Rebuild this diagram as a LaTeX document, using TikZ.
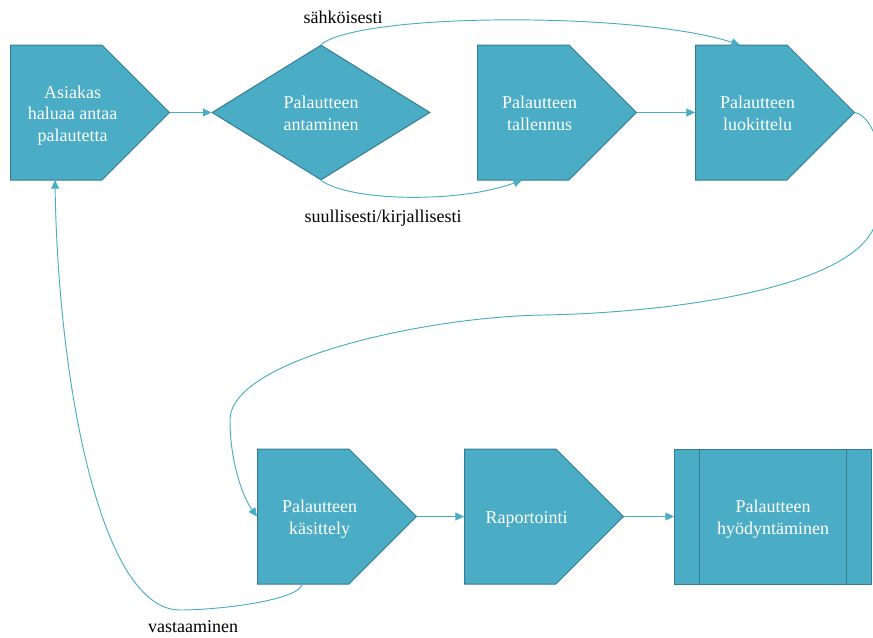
\documentclass[tikz,border=0pt]{standalone}
\usepackage{fontspec}
\setmainfont{Liberation Serif}
\usetikzlibrary{shapes.symbols,shapes.geometric,arrows.meta,calc}
\definecolor{stepfill}{HTML}{4BACC6}
\definecolor{stepline}{HTML}{357D91}
% tekstirivit keskelle, hieman alemmas
\newcommand{\steplines}[1]{\begin{tabular}{@{}c@{}}\rule{0pt}{15.9pt}#1\end{tabular}}

\begin{document}
\begin{tikzpicture}[x=0.75pt,y=-0.75pt,
        font=\fontsize{13.5}{16.3}\selectfont,
        box/.style={fill=stepfill,draw=stepline,line width=0.75pt,text=white,inner sep=0pt},
        arrowbox/.style={box,shape=signal,signal to=east,signal pointer angle=90,
            minimum width=119.25pt,minimum height=101.25pt,
            execute at end node={\hspace*{-24.4pt}}},
        decision/.style={box,shape=diamond,minimum width=163.5pt,minimum height=101.25pt},
        procbox/.style={box,rectangle,minimum width=147.75pt,minimum height=101.25pt,
            path picture={
                \draw[stepline,line width=0.75pt]
                    ([xshift=18.75pt]path picture bounding box.north west) -- ([xshift=18.75pt]path picture bounding box.south west)
                    ([xshift=-18.75pt]path picture bounding box.north east) -- ([xshift=-18.75pt]path picture bounding box.south east);
            }},
        flow/.style={draw=stepfill,line width=0.7pt,-{Triangle[length=6.5pt,width=6pt]}},
        lbl/.style={text=black}]
    \useasboundingbox (0,0) rectangle (873,637);

    % ylarivi
    \node[arrowbox,anchor=west] (asiakas) at (10,112.5) {\steplines{Asiakas\\haluaa antaa\\palautetta}};
    \node[decision] (antaminen) at (321,112.5) {\steplines{Palautteen\\antaminen}};
    \node[arrowbox,anchor=west] (tallennus) at (477,112.5) {\steplines{Palautteen\\tallennus}};
    \node[arrowbox,anchor=west] (luokittelu) at (695,112.5) {\steplines{Palautteen\\luokittelu}};

    % alarivi
    \node[arrowbox,anchor=west] (kasittely) at (257,516.5) {\steplines{Palautteen\\käsittely}};
    \node[arrowbox,anchor=west] (raportointi) at (464,516.5) {\steplines{Raportointi}};
    \node[procbox,anchor=west] (hyodyntaminen) at (674,516.5) {\steplines{Palautteen\\hyödyntäminen}};

    \coordinate (bend1) at (876,222);
    \coordinate (bend2) at (543,315);
    \coordinate (bend3) at (230,420);
    \coordinate (bend4) at (180,610);

    \draw[flow] (asiakas.east) -- (antaminen.west);
    \draw[flow] (antaminen.north) .. controls (362,12) and (640,12) .. ($(luokittelu.west)+(45,-67.5)$);
    \draw[flow] (antaminen.south) .. controls (352,202) and (461,203) .. ($(tallennus.west)+(45,67.5)$);
    \draw[flow] (tallennus.east) -- (luokittelu.west);
    \draw[flow] (luokittelu.east) .. controls (878,118) and (890,175) .. (bend1)
        .. controls (856,290) and (663,313) .. (bend2)
        .. controls (423,317) and (230,360) .. (bend3)
        .. controls (230,460) and (242,496) .. (kasittely.west);
    \draw[flow] (kasittely.east) -- (raportointi.west);
    \draw[flow] (raportointi.east) -- (hyodyntaminen.west);
    \draw[flow] ($(kasittely.west)+(45,67.5)$) .. controls (300,600) and (220,610) .. (bend4)
        .. controls (100,610) and (58,380) .. ($(asiakas.west)+(45,67.5)$);

    % nuolten tekstit
    \node[lbl] (sahkoisesti) at (343,17) {sähköisesti};
    \node[lbl] (suullisesti) at (383,218) {suullisesti/kirjallisesti};
    \node[lbl] (vastaaminen) at (193,627) {vastaaminen};
\end{tikzpicture}
\end{document}
